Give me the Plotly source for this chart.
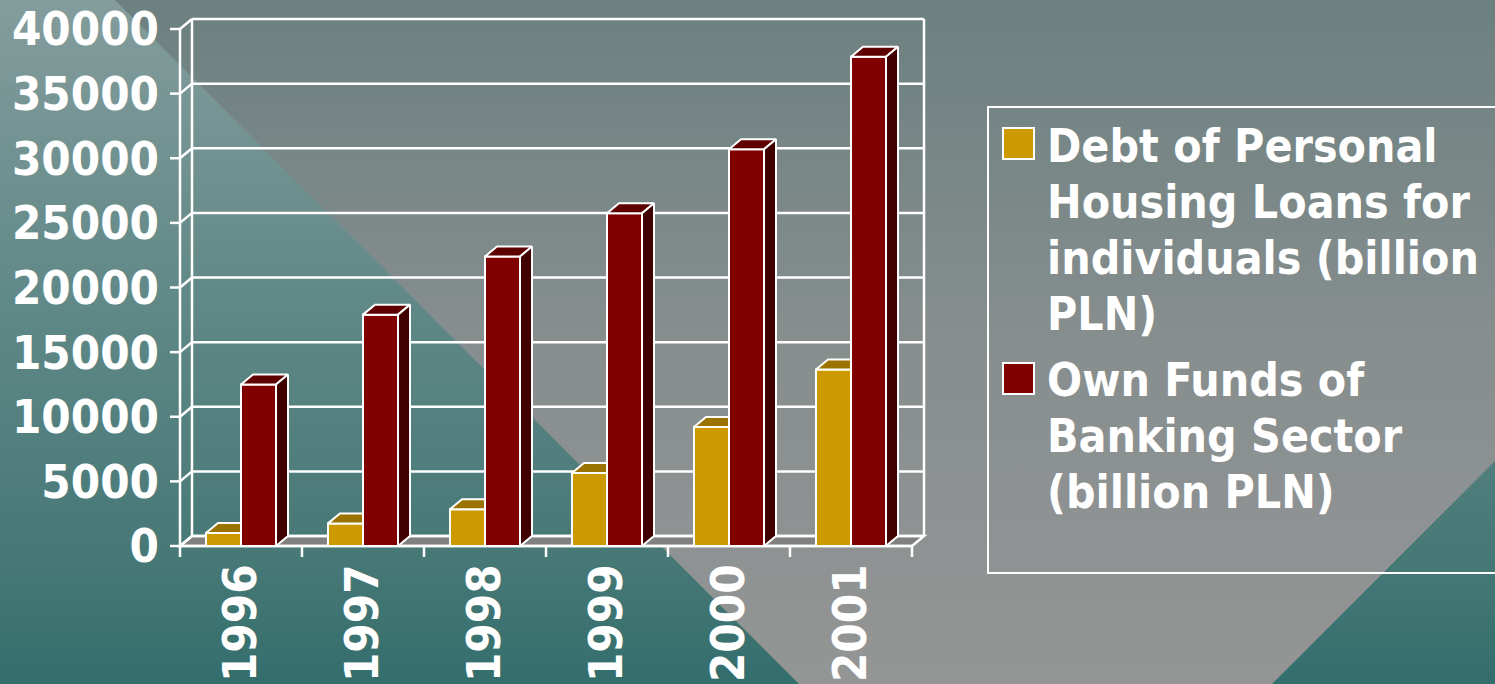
import plotly.graph_objects as go

# ---------------- data ----------------
years = ["1996", "1997", "1998", "1999", "2000", "2001"]
housing_loans = [1000, 1750, 2850, 5650, 9200, 13650]
own_funds = [12500, 17900, 22400, 25750, 30700, 37850]
series_names = [
    "Debt of Personal<br>Housing Loans for<br>individuals (billion<br>PLN)",
    "Own Funds of<br>Banking Sector<br>(billion PLN)",
]
y_ticks = [0, 5000, 10000, 15000, 20000, 25000, 30000, 35000, 40000]

# ---------------- styling / geometry ----------------
W, H = 1495, 684
FONT = "DejaVu Sans Condensed, DejaVu Sans, sans-serif"
FRONT = ["#CC9900", "#800000"]
TOP = ["#9A7300", "#5E0000"]
SIDE = ["#664D00", "#400000"]

AX_LEFT_PX, AX_ZERO_PX = 180, 546      # front y-axis x, front zero line y
CAT_PX = 122                            # width of one category in px
VPP = 40000 / 517                       # value per pixel
DEPTH_X_PX, DEPTH_Y_PX = 12, 10
DOM_L, DOM_R, DOM_T, DOM_B = 168, 929, 15, 560

n = len(years)
DX = DEPTH_X_PX / CAT_PX
DY = DEPTH_Y_PX * VPP
XL = -0.5
XR = n - 0.5
x_range = [XL - (AX_LEFT_PX - DOM_L) / CAT_PX, XL + (DOM_R - AX_LEFT_PX) / CAT_PX]
y_range = [-(DOM_B - AX_ZERO_PX) * VPP, (AX_ZERO_PX - DOM_T) * VPP]
BARGAP = 0.426
BW = (1 - BARGAP) / 2
YMAX = y_ticks[-1]

fig = go.Figure()

# ---------------- background (pixel space subplot) ----------------
fig.add_trace(go.Scatter(
    x=[0, W, W, 0, 0], y=[0, 0, H, H, 0], mode="lines", fill="toself",
    line=dict(width=0), hoverinfo="skip", showlegend=False,
    fillgradient=dict(type="vertical", start=0, stop=H,
                      colorscale=[[0, "#849c9c"], [0.45, "#5f8886"],
                                  [0.82, "#467876"], [1, "#336e6c"]]),
    xaxis="x", yaxis="y"))
fig.add_trace(go.Scatter(
    x=[115, W, W, 1956 - H, 115 + H, 115], y=[0, 0, 1956 - W, H, H, 0],
    mode="lines", fill="toself", line=dict(width=0), hoverinfo="skip",
    showlegend=False,
    fillgradient=dict(type="vertical", start=0, stop=H,
                      colorscale=[[0, "#6c8080"], [0.5, "#878e8e"],
                                  [1, "#949595"]]),
    xaxis="x", yaxis="y"))

# ---------------- 3D bars ----------------
values = [housing_loans, own_funds]
for s in range(2):
    fig.add_trace(go.Bar(
        x=list(range(n)), y=values[s], name=series_names[s].replace("<br>", " "),
        marker=dict(color=FRONT[s], line=dict(color="white", width=2)),
        xaxis="x2", yaxis="y2", showlegend=False, hoverinfo="skip"))

# top faces
for s in range(2):
    xs, ys = [], []
    for i, v in enumerate(values[s]):
        x0 = i - BW if s == 0 else i
        x1 = i if s == 0 else i + BW
        xr_back = x1 if s == 0 else x1 + DX   # yellow top clipped by red bar
        xs += [x0, x0 + DX, xr_back, x1, x0, None]
        ys += [v, v + DY, v + DY, v, v, None]
    fig.add_trace(go.Scatter(
        x=xs, y=ys, mode="lines", fill="toself", fillcolor=TOP[s],
        line=dict(color="white", width=2), hoverinfo="skip",
        showlegend=False, xaxis="x2", yaxis="y2"))

# side faces of the rear (right) bars
xs, ys = [], []
for i, v in enumerate(own_funds):
    x1 = i + BW
    xs += [x1, x1 + DX, x1 + DX, x1, x1, None]
    ys += [0, DY, v + DY, v, 0, None]
fig.add_trace(go.Scatter(
    x=xs, y=ys, mode="lines", fill="toself", fillcolor=SIDE[1],
    line=dict(color="white", width=2), hoverinfo="skip",
    showlegend=False, xaxis="x2", yaxis="y2"))

# ---------------- walls, floor, grid (shapes below traces) ----------------
shapes = []
LW = dict(color="white", width=2.5)


def seg(x0, y0, x1, y1):
    shapes.append(dict(type="line", xref="x2", yref="y2", x0=x0, y0=y0,
                       x1=x1, y1=y1, line=LW, layer="below"))


# floor
shapes.append(dict(type="path", xref="x2", yref="y2", layer="below",
                   path=f"M {XL},0 L {XL + DX},{DY} L {XR + DX},{DY} L {XR},0 Z",
                   fillcolor="#808080", line=LW))
for v in y_ticks:
    seg(XL + DX, v + DY, XR + DX, v + DY)          # back-wall gridline
    seg(XL, v, XL + DX, v + DY)                    # side-wall connector
    seg(XL - 10 / CAT_PX, v, XL, v)                # y tick mark
seg(XL + DX, DY, XL + DX, YMAX + DY)               # back wall left edge
seg(XR + DX, DY, XR + DX, YMAX + DY)               # back wall right edge
seg(XL, 0, XL, YMAX)                               # front y axis
seg(XL, 0, XR, 0)                                  # front x axis
for k in range(n + 1):
    seg(XL + k, 0, XL + k, -11 * VPP)              # x tick marks

# ---------------- legend (custom) ----------------
shapes.append(dict(type="rect", xref="paper", yref="paper",
                   x0=988 / W, x1=1510 / W, y0=1 - 573 / H, y1=1 - 107 / H,
                   line=dict(color="white", width=2), fillcolor="rgba(0,0,0,0)"))
annotations = []
legend_top = [128, 363]
baseline0 = [162, 396]
LINE_PX = 56
for s in range(2):
    shapes.append(dict(type="rect", xref="paper", yref="paper",
                       x0=1003 / W, x1=1034 / W,
                       y0=1 - (legend_top[s] + 31) / H, y1=1 - legend_top[s] / H,
                       line=dict(color="white", width=2), fillcolor=FRONT[s]))
    for j, line in enumerate(series_names[s].split("<br>")):
        yc = baseline0[s] + j * LINE_PX - 16
        annotations.append(dict(
            xref="paper", yref="paper", x=1045 / W, y=1 - yc / H,
            xanchor="left", yanchor="middle", showarrow=False, text=line,
            font=dict(family=FONT, size=46, color="white", weight="bold")))

fig.update_layout(
    width=W, height=H, margin=dict(l=0, r=0, t=0, b=0, autoexpand=False),
    paper_bgcolor="#4f7f7d", plot_bgcolor="rgba(0,0,0,0)",
    barmode="group", bargap=BARGAP, bargroupgap=0,
    showlegend=False, shapes=shapes, annotations=annotations,
    xaxis=dict(domain=[0, 1], range=[0, W], visible=False, fixedrange=True,
               automargin=False),
    yaxis=dict(domain=[0, 1], range=[H, 0], visible=False, fixedrange=True,
               automargin=False),
    xaxis2=dict(domain=[DOM_L / W, DOM_R / W], range=x_range, anchor="y2",
                tickmode="array", tickvals=list(range(n)), ticktext=years,
                tickangle=-90, ticks="", showgrid=False, zeroline=False,
                showline=False, ticklabelstandoff=-6, automargin=False,
                tickfont=dict(family=FONT, size=47, color="white", weight="bold")),
    yaxis2=dict(domain=[1 - DOM_B / H, 1 - DOM_T / H], range=y_range, anchor="x2",
                tickmode="array", tickvals=y_ticks, automargin=False,
                ticktext=[str(v) for v in y_ticks], ticks="", showgrid=False,
                zeroline=False, showline=False, ticklabelstandoff=8,
                tickfont=dict(family=FONT, size=47, color="white", weight="bold")),
)

fig.write_html("out.html")
